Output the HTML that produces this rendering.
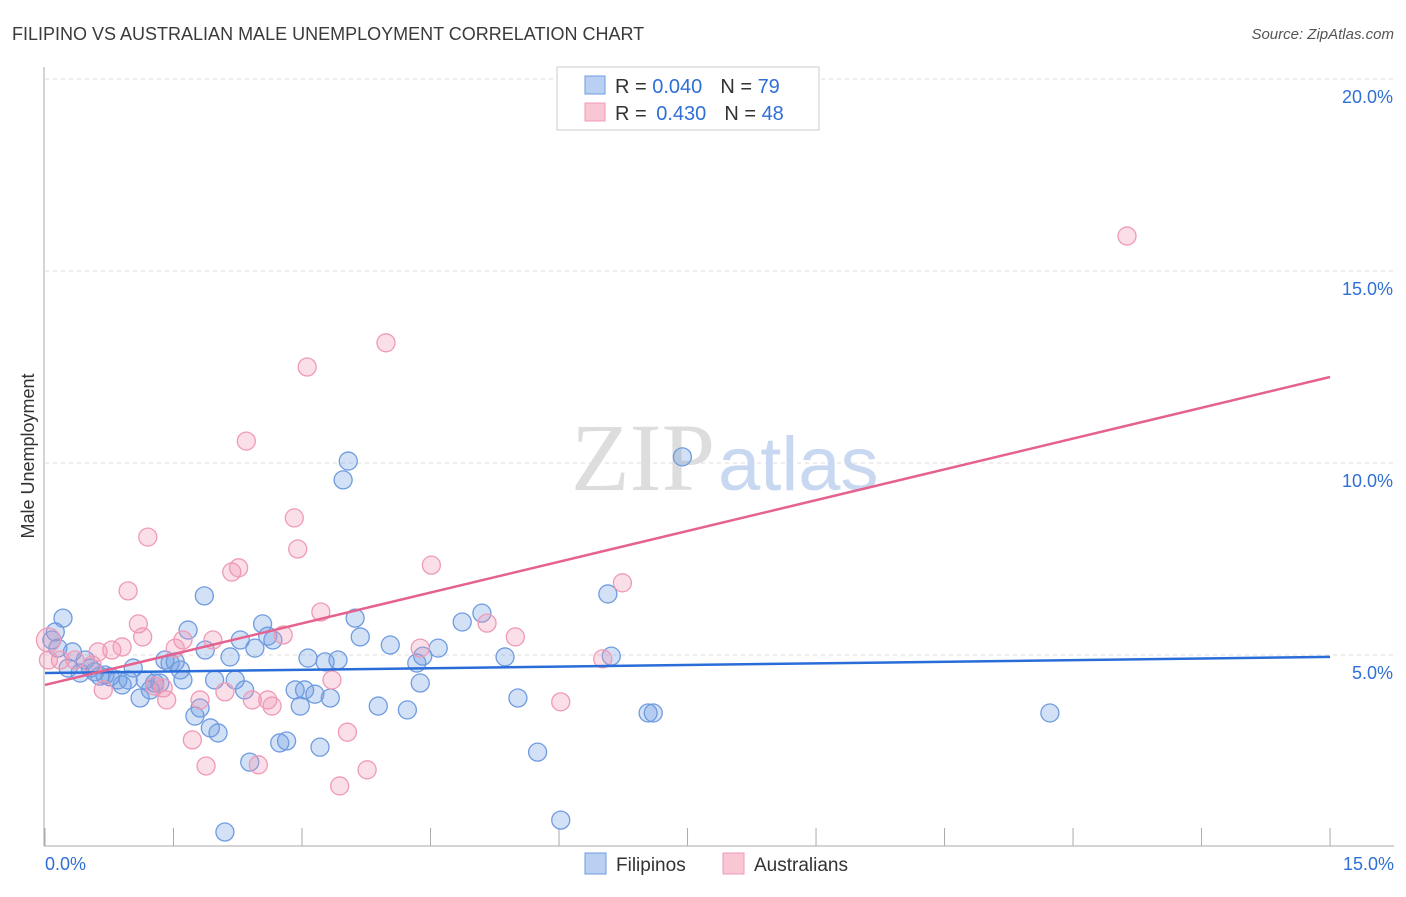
<!DOCTYPE html>
<html><head><meta charset="utf-8"><style>
body{margin:0;background:#fff;font-family:"Liberation Sans",sans-serif}
</style></head><body>
<svg id="chart" width="1406" height="892" xmlns="http://www.w3.org/2000/svg">
<text x="12" y="40" font-size="18" fill="#3a3a3a">FILIPINO VS AUSTRALIAN MALE UNEMPLOYMENT CORRELATION CHART</text>
<text x="1394" y="39" font-size="15" fill="#555" font-style="italic" text-anchor="end">Source: ZipAtlas.com</text>
<text x="34" y="456" font-size="18" fill="#333" transform="rotate(-90 34 456)" text-anchor="middle">Male Unemployment</text>
<g id="grid"></g>
<text x="715" y="490" font-size="96" fill="#ddd" text-anchor="end" font-family="Liberation Serif,serif">ZIP</text>
<text x="718" y="490" font-size="76" fill="#c8d8f0">atlas</text>
<g id="pts"></g>
<g id="lines"></g>
<g>
<rect x="557" y="67" width="262" height="63" fill="#fff" stroke="#ccc"/>
<rect x="585" y="76" width="20" height="18" fill="#b9d0f3" stroke="#6f9be0"/>
<rect x="585" y="103" width="20" height="18" fill="#f9c6d4" stroke="#f09ab5"/>
<text x="615" y="93" font-size="20" fill="#333">R = <tspan fill="#2f6fd6">0.040</tspan><tspan dx="18">N = </tspan><tspan fill="#2f6fd6">79</tspan></text>
<text x="615" y="120" font-size="20" fill="#333">R = <tspan fill="#2f6fd6" dx="4">0.430</tspan><tspan dx="18">N = </tspan><tspan fill="#2f6fd6">48</tspan></text>
</g>
<g>
<rect x="585" y="853" width="21" height="21" fill="#b9d0f3" stroke="#6f9be0"/>
<text x="616" y="871" font-size="19" fill="#333">Filipinos</text>
<rect x="723" y="853" width="21" height="21" fill="#f9c6d4" stroke="#f09ab5"/>
<text x="754" y="871" font-size="19" fill="#333">Australians</text>
</g>
</svg>
<script>
const yTicks=[5,10,15,20];
const xTickLabels=["0.0%","15.0%"];
const blueX=[],blueY=[],pinkX=[],pinkY=[];
const bluePx=[[63,618],[52,640],[72,652],[68,668],[80,673],[85,660],[90,668],[95,672],[100,676],[105,675],[110,677],[118,680],[122,685],[128,680],[133,668],[140,698],[145,680],[150,690],[155,683],[160,683],[165,660],[170,663],[175,662],[180,670],[183,680],[188,630],[195,716],[200,708],[205,650],[210,728],[215,680],[218,733],[230,657],[235,680],[240,640],[245,690],[250,762],[255,648],[263,624],[268,636],[273,640],[280,743],[287,741],[295,690],[300,706],[305,690],[308,658],[315,694],[320,747],[325,662],[330,698],[338,660],[343,480],[348,461],[355,618],[360,637],[378,706],[390,645],[407,710],[417,663],[420,683],[423,656],[438,648],[462,622],[482,613],[505,657],[518,698],[538,752],[561,820],[608,594],[611,656],[648,713],[653,713],[682,457],[1050,713],[225,832],[204,596],[55,632],[58,648]];
const pinkPx=[[48,640],[60,660],[75,660],[92,665],[98,652],[103,690],[112,650],[122,647],[128,591],[138,624],[143,637],[148,537],[155,686],[163,688],[167,700],[175,648],[183,640],[192,740],[200,700],[206,766],[213,640],[225,692],[232,572],[239,568],[246,441],[252,700],[258,765],[268,700],[272,706],[283,635],[294,518],[298,549],[307,367],[321,612],[332,680],[340,786],[347,732],[367,770],[386,343],[420,648],[431,565],[487,623],[515,637],[561,702],[603,659],[622,583],[1127,236],[48,660]];
// values (percent)
bluePx.forEach(p=>{blueX.push(+((p[0]-45)/85.67).toFixed(2));blueY.push(+((847-p[1])/38.4).toFixed(2));});
pinkPx.forEach(p=>{pinkX.push(+((p[0]-45)/85.67).toFixed(2));pinkY.push(+((847-p[1])/38.4).toFixed(2));});
const blueTrend=[4.53,4.95];
const pinkTrend=[4.22,12.24];
const X=v=>45+v*85.67, Y=v=>847-v*38.4;
const NS="http://www.w3.org/2000/svg";
function mk(tag,attrs,parent){const e=document.createElementNS(NS,tag);for(const k in attrs)e.setAttribute(k,attrs[k]);parent.appendChild(e);return e;}
const grid=document.getElementById('grid');
yTicks.forEach(t=>{
 const l=mk('line',{x1:45,x2:1394,y1:Y(t),y2:Y(t),stroke:'#ddd','stroke-dasharray':'4,4'},grid);
 
 
 const tx=mk('text',{x:1393,y:Y(t)+24,'font-size':18,fill:'#2f6fd6','text-anchor':'end'},grid);
 tx.textContent=t.toFixed(1)+'%';
 
 
});
const ax=mk('line',{x1:44,x2:44,y1:67,y2:846,stroke:'#aaa'},grid);


const bx=mk('line',{x1:44,x2:1394,y1:846,y2:846,stroke:'#aaa'},grid);


for(let i=0;i<=10;i++){
 const t=mk('line',{x1:X(i*1.5),x2:X(i*1.5),y1:828,y2:846,stroke:'#aaa'},grid);
 
 
}
[[0,"start",45],[15,"end",1394]].forEach((a,i)=>{
 const tx=mk('text',{x:a[2],y:870,'font-size':18,fill:'#2f6fd6','text-anchor':a[1]},grid);
 tx.textContent=xTickLabels[i];
 
 
});
const pts=document.getElementById('pts');
blueX.forEach((v,i)=>{
 const c=mk('circle',{cx:X(v),cy:Y(blueY[i]),r:9,fill:'rgba(110,155,225,0.3)',stroke:'#6f9be0','stroke-width':1.3},pts);
 
 
});
pinkX.forEach((v,i)=>{
 const c=mk('circle',{cx:X(v),cy:Y(pinkY[i]),r:i==0?12:9,fill:'rgba(240,150,180,0.3)',stroke:'#f09ab5','stroke-width':1.3},pts);
 
 
});
const lines=document.getElementById('lines');
const bl=mk('line',{x1:X(0),x2:X(15),y1:Y(blueTrend[0]),y2:Y(blueTrend[1]),stroke:'#2a6dd8','stroke-width':2.5},lines);


const pl=mk('line',{x1:X(0),x2:X(15),y1:Y(pinkTrend[0]),y2:Y(pinkTrend[1]),stroke:'#e5628e','stroke-width':2.5},lines);


</script>
</body></html>
